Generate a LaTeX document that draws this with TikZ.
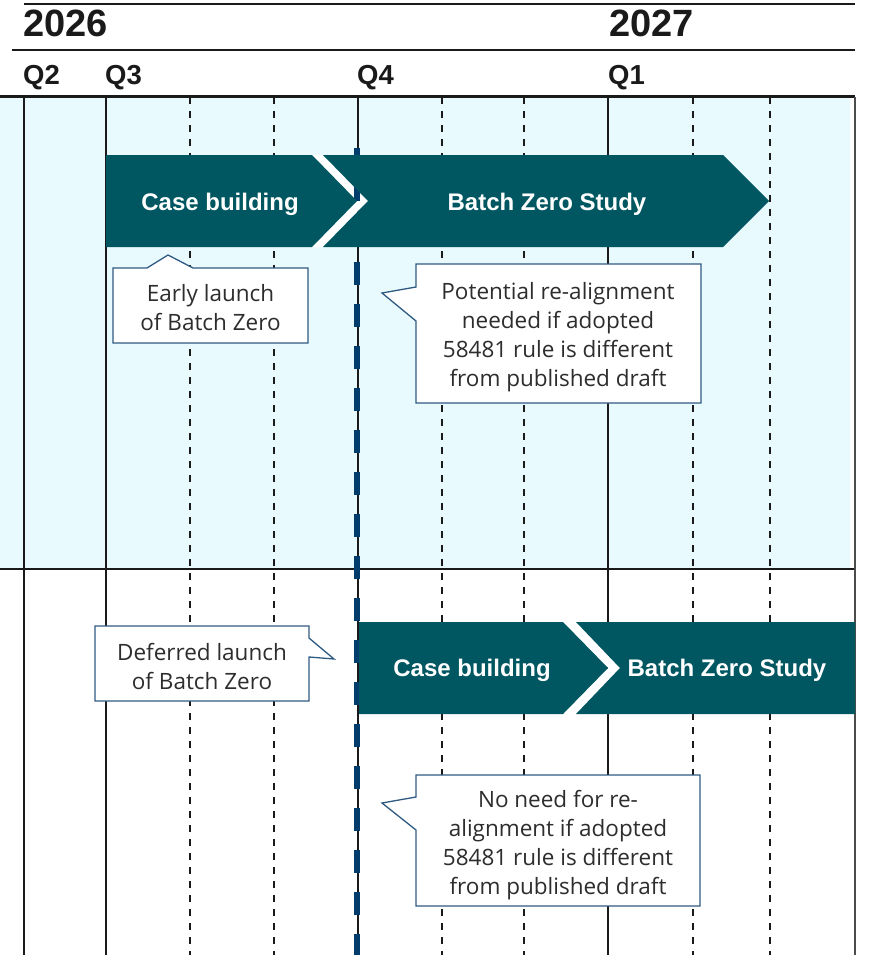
\documentclass[tikz,border=0pt]{standalone}
\usepackage{fontspec}
\setmainfont{Liberation Sans}
\newfontfamily\calloutfont{Open Sans}
\definecolor{band}{RGB}{232,250,253}
\definecolor{tealarrow}{RGB}{0,87,97}
\definecolor{calloutblue}{RGB}{47,90,130}
\definecolor{textgray}{RGB}{45,45,45}
\definecolor{gridline}{RGB}{26,26,26}
\definecolor{markerblue}{RGB}{0,60,108}
\tikzset{
  hdr/.style={font=\bfseries\fontsize{38}{40}\selectfont, inner sep=0pt, anchor=base west, text=gridline},
  qlab/.style={font=\bfseries\fontsize{27.5}{30}\selectfont, inner sep=0pt, anchor=base west, text=gridline},
  arrowlab/.style={font=\bfseries\fontsize{24}{26}\selectfont, text=white, inner sep=0pt},
  chev/.style={fill=tealarrow},
  gapfill/.style={fill=white},
  calloutbox/.style={draw=calloutblue, fill=white, line width=1.3pt, line join=miter},
  callouttext/.style={font=\calloutfont\fontsize{22.5}{29}\selectfont, align=center, text=textgray, inner sep=0pt},
  solidgrid/.style={draw=gridline, line width=2pt},
  dashgrid/.style={draw=gridline, line width=2pt, dash pattern=on 7pt off 7pt},
  hline/.style={draw=gridline, line width=2.5pt},
  markerline/.style={draw=markerblue, line width=6pt, dash pattern=on 23pt off 19pt, dash phase=12pt}
}
\begin{document}
\begin{tikzpicture}[x=1pt,y=-1pt]
\useasboundingbox (0,0) rectangle (869,955);
% band
\fill[band] (0,98) rectangle (850,568);
% header lines
\draw[hline] (24,4) -- (855,4);
\draw[hline] (12,50) -- (855,50);
\draw[gridline, line width=3pt] (0,97) -- (855,97);
\draw[gridline, line width=1.5pt] (0,569) -- (855,569);
% header text
\node[hdr] (y2026) at (23,37) {2026};
\node[hdr] (y2027) at (609,37) {2027};
\node[qlab] (q2) at (23,85) {Q2};
\node[qlab] (q3) at (105,85) {Q3};
\node[qlab] (q4) at (357,85) {Q4};
\node[qlab] (q1) at (608,85) {Q1};
% vertical grid
\foreach \x in {24,106,358,608} \draw[solidgrid] (\x,97) -- (\x,955);
\draw[draw=black!70, line width=2pt] (855,97) -- (855,955);
\foreach \x in {190,274,442,524,693,770} \draw[dashgrid] (\x,97) -- (\x,955);
% white gaps between chevrons
\fill[gapfill] (312,155) -- (323,155) -- (368,201) -- (323,247) -- (312,247) -- (357,201) -- cycle;
\fill[gapfill] (563,622) -- (576,622) -- (620,668) -- (576,714) -- (563,714) -- (608,668) -- cycle;
% Q4 marker line
\coordinate (mtop) at (357,148);
\coordinate (mbot) at (357,955);
\draw[markerline] (mtop) -- (mbot);
% chevrons row 1
\fill[chev] (106,155) -- (312,155) -- (357,201) -- (312,247) -- (106,247) -- cycle;
\fill[chev] (323,155) -- (723,155) -- (769,201) -- (723,247) -- (323,247) -- (368,201) -- cycle;
\node[arrowlab] (cb1) at (220,204) {Case building};
\node[arrowlab] (bz1) at (547,204) {Batch Zero Study};
% chevrons row 2
\fill[chev] (359,622) -- (563,622) -- (608,668) -- (563,714) -- (359,714) -- cycle;
\fill[chev] (576,622) -- (855,622) -- (855,714) -- (576,714) -- (620,668) -- cycle;
\node[arrowlab] (cb2) at (472,670) {Case building};
\node[arrowlab] (bz2) at (727,670) {Batch Zero Study};
% callouts
\draw[calloutbox] (113,268) -- (147,268) -- (168,255) -- (193,268) -- (308,268) -- (308,343) -- (113,343) -- cycle;
\node[callouttext] (early) at (210.5,308) {Early launch\\of Batch Zero};
\draw[calloutbox] (416,264) -- (701,264) -- (701,403) -- (416,403) -- (416,321) -- (382,293) -- (416,287) -- cycle;
\node[callouttext] (realign) at (558,337) {Potential re-alignment\\needed if adopted\\58481 rule is different\\from published draft};
\draw[calloutbox] (95,626) -- (309,626) -- (309,638) -- (334,659) -- (309,657) -- (309,701) -- (95,701) -- cycle;
\node[callouttext] (deferred) at (202,666) {Deferred launch\\of Batch Zero};
\draw[calloutbox] (416,775) -- (700,775) -- (700,906) -- (416,906) -- (416,830) -- (382,803) -- (416,797) -- cycle;
\node[callouttext] (noneed) at (558,845) {No need for re-\\alignment if adopted\\58481 rule is different\\from published draft};
\end{tikzpicture}
\end{document}
